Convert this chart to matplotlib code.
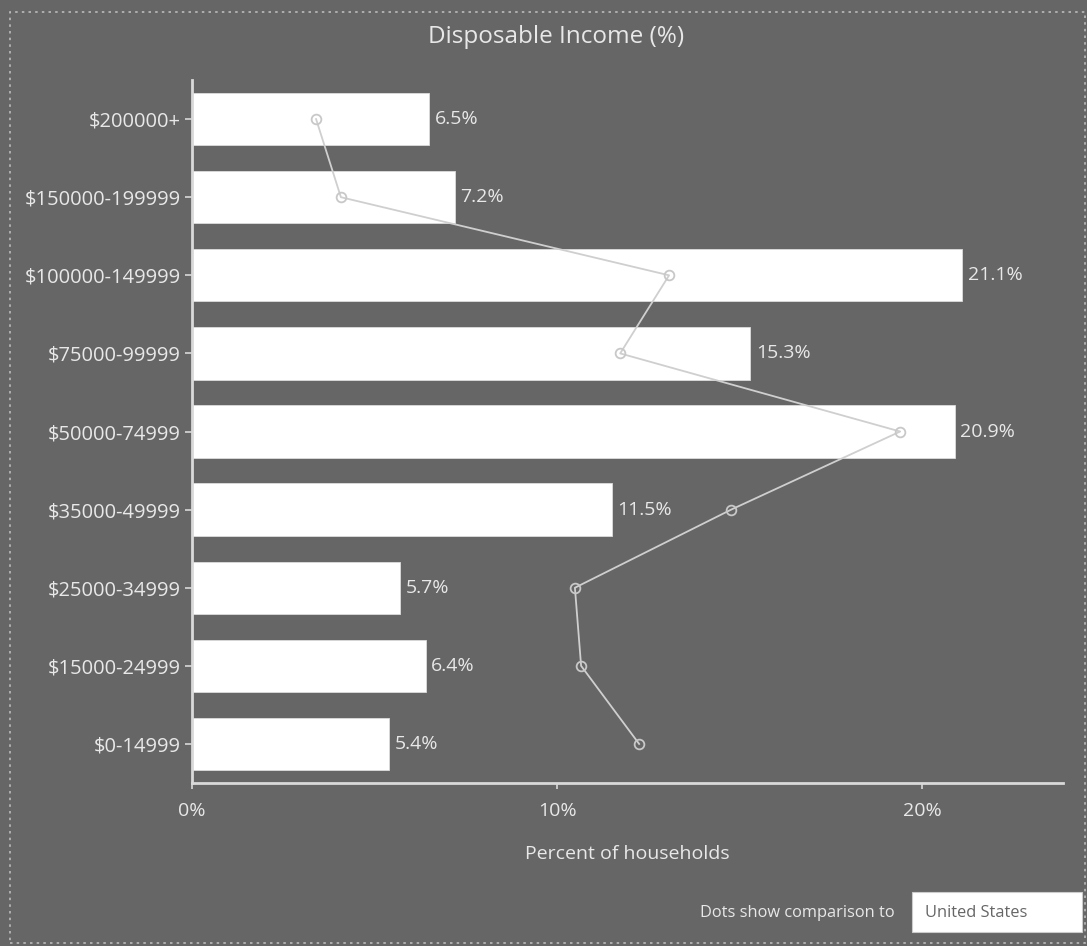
import matplotlib
matplotlib.use("Agg")
import matplotlib.pyplot as plt
from matplotlib.patches import Rectangle

plt.rcParams['font.family'] = ['Open Sans', 'DejaVu Sans']

categories = ["$0-14999", "$15000-24999", "$25000-34999", "$35000-49999",
              "$50000-74999", "$75000-99999", "$100000-149999",
              "$150000-199999", "$200000+"]
area_pct = [5.4, 6.4, 5.7, 11.5, 20.9, 15.3, 21.1, 7.2, 6.5]
us_pct = [12.25, 10.66, 10.49, 14.77, 19.4, 11.73, 13.07, 4.08, 3.4]
x_ticks = [0, 10, 20]
x_tick_labels = ["0%", "10%", "20%"]

BG = "#666666"
FG = "#e8e8e8"
AXIS = "#d9d9d9"

fig = plt.figure(figsize=(10.87, 9.46), dpi=100, facecolor=BG)
ax = fig.add_axes([0.1766, 0.1723, 0.8013, 0.7431], facecolor=BG)

y = list(range(len(categories)))
ax.barh(y, area_pct, height=0.67, color="white", edgecolor="#dddddd",
        linewidth=0.6, zorder=2)
for yi, v in zip(y, area_pct):
    ax.text(v + 0.15, yi, f"{v}%", va="center", ha="left",
            color=FG, fontsize=14, zorder=4)

ax.plot(us_pct, y, color="#cfcfcf", linewidth=1.3, marker="o",
        markersize=7, markerfacecolor="none", markeredgecolor="#c8c8c8",
        markeredgewidth=1.3, zorder=3)

ax.set_xlim(0, 23.86)
ax.set_ylim(-0.5, 8.5)
ax.set_yticks(y)
ax.set_yticklabels(categories)
ax.set_xticks(x_ticks)
ax.set_xticklabels(x_tick_labels)

for side in ("top", "right"):
    ax.spines[side].set_visible(False)
for side in ("left", "bottom"):
    ax.spines[side].set_color(AXIS)
    ax.spines[side].set_linewidth(2)
ax.tick_params(axis="y", colors=AXIS, labelcolor=FG, labelsize=14.5,
               length=5, width=1.2, pad=3)
ax.tick_params(axis="x", colors=AXIS, labelcolor=FG, labelsize=14,
               length=4, width=1.2, pad=10)

ax.set_xlabel("Percent of households", color=FG, fontsize=14, labelpad=18)

fig.text(0.512, 1 - 37 / 946, "Disposable Income (%)", ha="center",
         va="center", color=FG, fontsize=17.5)

# dotted frame around the panel
fig.add_artist(Rectangle((10 / 1087, 3 / 946), 1075 / 1087, 931 / 946,
                         transform=fig.transFigure, fill=False,
                         edgecolor="#bbbbbb", linewidth=1.2,
                         linestyle=(0, (1.5, 2.5))))

# comparison selector
fig.text(895 / 1087, 1 - 913 / 946, "Dots show comparison to", ha="right",
         va="center", color=FG, fontsize=11.8)
fig.add_artist(Rectangle((912 / 1087, 1 - 932 / 946), 170 / 1087, 40 / 946,
                         transform=fig.transFigure, facecolor="white",
                         edgecolor="#cccccc", linewidth=0.8))
fig.text(925 / 1087, 1 - 913 / 946, "United States", ha="left",
         va="center", color="#666666", fontsize=11.8)

fig.savefig("out.png", dpi=100, facecolor=BG)
